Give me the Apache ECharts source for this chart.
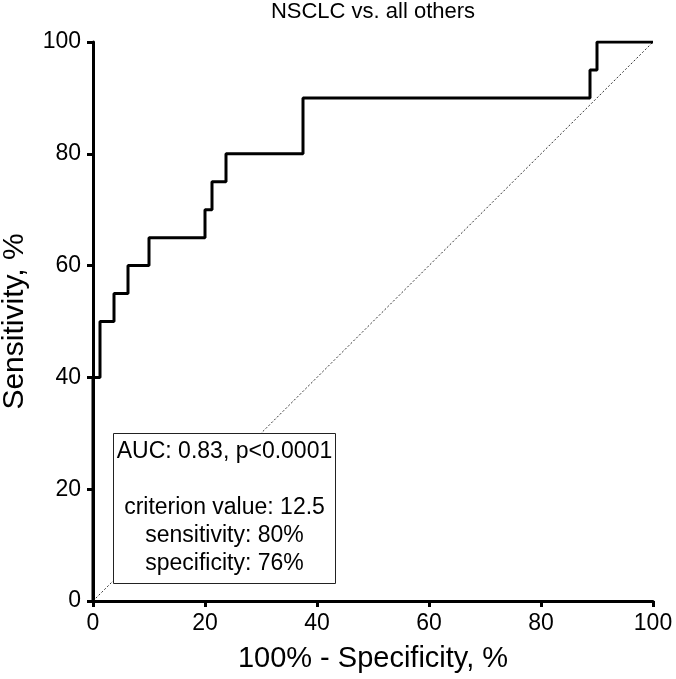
<!DOCTYPE html>
<html><head><meta charset="utf-8">
<script src="https://cdn.jsdelivr.net/npm/echarts@6/dist/echarts.min.js"></script>
<style>html,body{margin:0;padding:0;background:#fff}#c{width:676px;height:679px}</style>
</head><body><div id="c"></div>
<script>
var rocX = [0, 0, 1.25, 1.25, 3.75, 3.75, 6.25, 6.25, 10, 10, 20, 20, 21.25, 21.25, 23.75, 23.75, 37.5, 37.5, 88.75, 88.75, 90, 90, 100];
var rocY = [0, 40, 40, 50, 50, 55, 55, 60, 60, 65, 65, 70, 70, 75, 75, 80, 80, 90, 90, 95, 95, 100, 100];
var diagX = [0, 100];
var diagY = [0, 100];
var xTicks = [0, 20, 40, 60, 80, 100];
var yTicks = [0, 20, 40, 60, 80, 100];
var titleText = 'NSCLC vs. all others';
var boxLines = ['AUC: 0.83, p<0.0001', '', 'criterion value: 12.5', 'sensitivity: 80%', 'specificity: 76%'];

var font = 'Liberation Sans, Arial, sans-serif';
var chart = echarts.init(document.getElementById('c'));
chart.setOption({
  animation: false,
  backgroundColor: '#fff',
  title: {text: titleText, left: 373, top: 1, padding: 0, textAlign: 'center',
    textStyle: {fontFamily: font, fontSize: 22, fontWeight: 'normal', color: '#000'}},
  grid: {left: 93, right: 23, top: 42, bottom: 78, outerBoundsMode: 'none', containLabel: false},
  xAxis: {type: 'value', min: 0, max: 100, interval: 20,
    name: '100% - Specificity, %', nameLocation: 'middle', nameGap: 43,
    nameTextStyle: {fontFamily: font, fontSize: 29, color: '#000'},
    axisLine: {show: true, onZero: false, lineStyle: {color: '#000', width: 3}},
    axisTick: {show: true, length: 6, lineStyle: {color: '#000', width: 3}},
    axisLabel: {fontFamily: font, fontSize: 23, color: '#000', margin: 11,
      formatter: function(v){ return xTicks.indexOf(v) >= 0 ? String(v) : ''; }},
    splitLine: {show: false}},
  yAxis: {type: 'value', min: 0, max: 100, interval: 20,
    name: 'Sensitivity, %', nameLocation: 'middle', nameGap: 63,
    nameTextStyle: {fontFamily: font, fontSize: 30, color: '#000'},
    axisLine: {show: true, onZero: false, lineStyle: {color: '#000', width: 3}},
    axisTick: {show: true, length: 6, lineStyle: {color: '#000', width: 3}},
    axisLabel: {fontFamily: font, fontSize: 23, color: '#000', margin: 12,
      formatter: function(v){ return yTicks.indexOf(v) >= 0 ? String(v) : ''; }},
    splitLine: {show: false}},
  series: [
    {type: 'line', data: diagX.map(function(x, i){return [x, diagY[i]];}),
      symbol: 'none', z: 1, lineStyle: {color: '#333', width: 1, type: [2, 2]}},
    {type: 'line', data: rocX.map(function(x, i){return [x, rocY[i]];}),
      symbol: 'none', z: 3, lineStyle: {color: '#000', width: 3}}
  ],
  graphic: [
    {type: 'rect', z: 10, shape: {x: 113.5, y: 433.5, width: 222, height: 150},
      style: {fill: '#fff', stroke: '#222', lineWidth: 1}},
    {type: 'text', z: 11, x: 224.5, y: 438,
      style: {text: boxLines.join('\n'), font: '23px ' + font, fill: '#000',
        textAlign: 'center', textVerticalAlign: 'top', lineHeight: 28}}
  ]
});
</script></body></html>
